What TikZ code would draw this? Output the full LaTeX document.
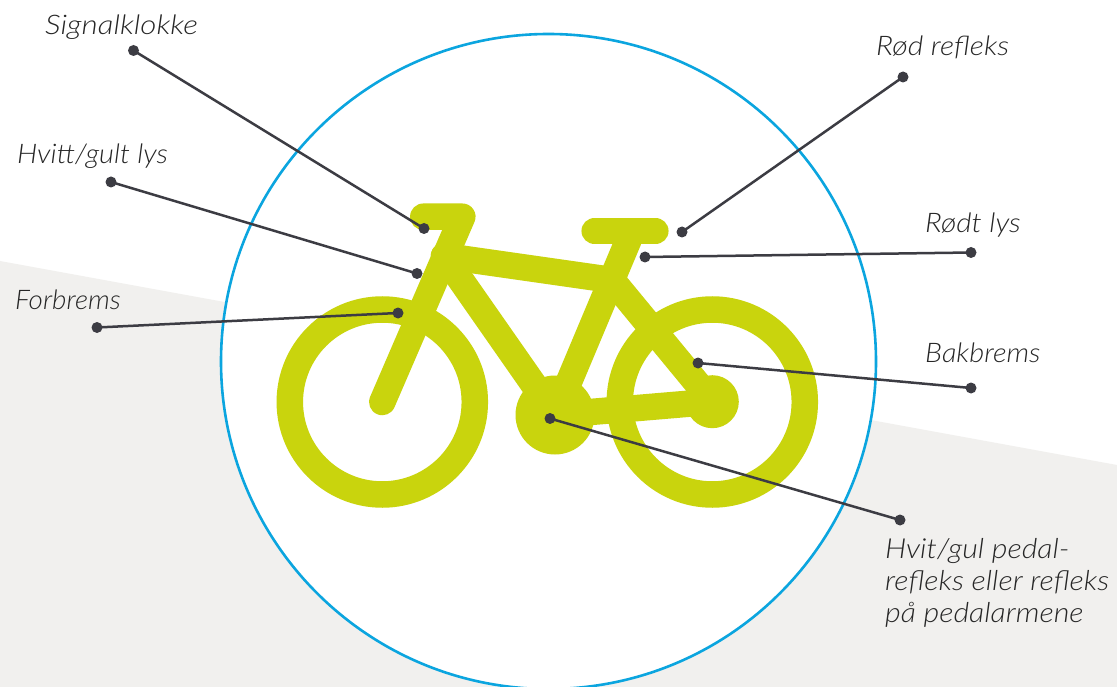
\documentclass[tikz,border=0pt]{standalone}
\usepackage{graphicx}
\usepackage{fontspec}
\setmainfont{Lato}[ItalicFont={Lato Light Italic},ItalicFeatures={FakeStretch=1.1}]
\definecolor{bikeg}{HTML}{C9D40D}
\definecolor{skyb}{HTML}{0BA5DF}
\definecolor{greyb}{HTML}{F1F0EE}
\definecolor{inkd}{HTML}{3C3C43}
\tikzset{
  px/.style={x=1pt,y=-1pt},
  tube/.style={draw=bikeg,line width=26.5pt,line cap=round,line join=round},
  wheelring/.style={draw=bikeg,line width=26.5pt},
  dotm/.style={circle,fill=inkd,inner sep=0pt,minimum size=11pt},
  leader/.style={draw=inkd,line width=2.5pt},
  lab/.style={anchor=base west,inner sep=0pt,font=\fontsize{27}{32}\selectfont\itshape,text=black!85,align=left}
}
\begin{document}
\begin{tikzpicture}[px]
\useasboundingbox (0,0) rectangle (1117,687);
\fill[white] (0,0) rectangle (1117,687);
\fill[greyb] (0,261) -- (1117,465) -- (1117,687) -- (0,687) -- cycle;
\begin{scope}
\clip (0,0) rectangle (1117,687);
\draw[fill=white,draw=skyb,line width=2.6pt] (548.5,361.5) circle[radius=327.5];
\end{scope}
% bicycle
\draw[wheelring] (382.3,402) circle[radius=92.5];
\draw[wheelring] (712.3,402) circle[radius=92.5];
\fill[bikeg] (555,415) circle[radius=39.5];
\fill[bikeg] (712.3,401.7) circle[radius=26.5];
\draw[tube] (382.3,402) -- (462.3,216.7) -- (423.3,216.7);
\draw[tube] (555,415) -- (628.5,240);
\draw[tube] (594.7,231) -- (655.3,231);
\draw[tube] (444,256) -- (612,280);
\draw[tube] (444,256) -- (555,415);
\draw[tube] (612,280) -- (712.3,401.7);
\draw[tube] (555,415) -- (712.3,401.7);
% anchors
\node[dotm] (a1) at (133.5,50.5) {};
\node[dotm] (b1) at (424,228.5) {};
\node[dotm] (a2) at (111,182) {};
\node[dotm] (b2) at (417,273.5) {};
\node[dotm] (a3) at (97,327.5) {};
\node[dotm] (b3) at (398,313) {};
\node[dotm] (a4) at (903,77) {};
\node[dotm] (b4) at (682,232) {};
\node[dotm] (a5) at (971,252.5) {};
\node[dotm] (b5) at (645,257) {};
\node[dotm] (a6) at (971,388) {};
\node[dotm] (b6) at (698,363) {};
\node[dotm] (a7) at (900,520) {};
\node[dotm] (b7) at (550,418.5) {};
\foreach \n in {1,...,7} \draw[leader] (a\n.center) -- (b\n.center);
% labels
\node[lab] (t1) at (45,35) {\scalebox{1.055}[1]{Signalklokke}};
\node[lab] (t2) at (17,164) {\scalebox{0.975}[1]{Hvitt/gult lys}};
\node[lab] (t3) at (15,309) {\scalebox{0.94}[1]{Forbrems}};
\node[lab] (t4) at (876,56) {\scalebox{1.015}[1]{Rød refleks}};
\node[lab] (t5) at (925,233) {Rødt lys};
\node[lab] (t6) at (925,362) {\scalebox{0.975}[1]{Bakbrems}};
\node[lab,font=\fontsize{27.6}{32}\selectfont\itshape] (t7) at (885,622) {Hvit/gul pedal-\\refleks eller refleks\\på pedalarmene};
\end{tikzpicture}
\end{document}
